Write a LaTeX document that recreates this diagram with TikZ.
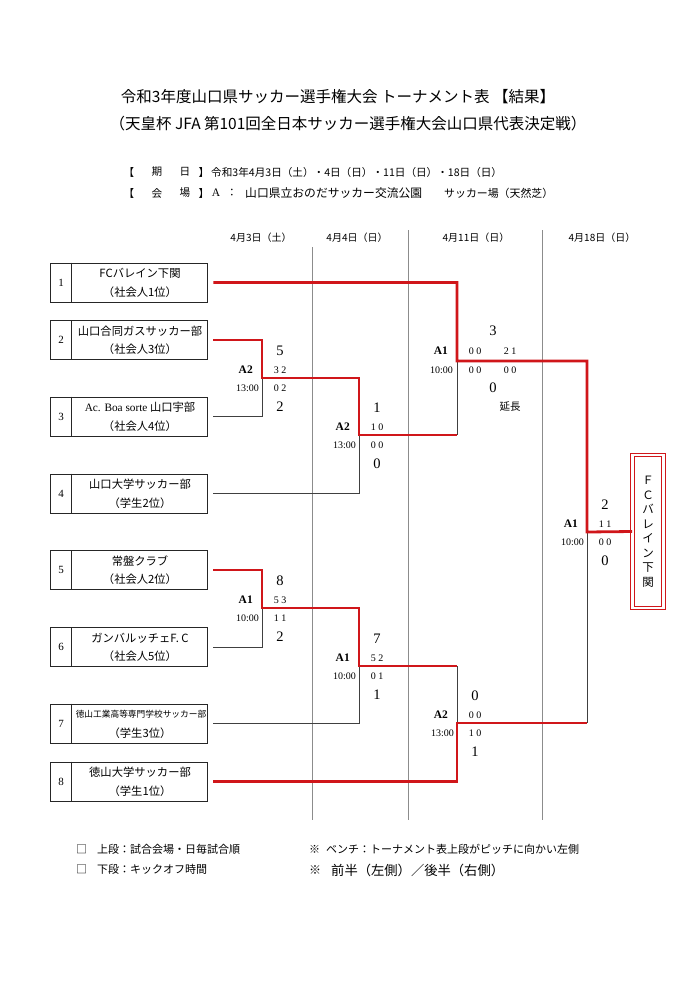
\documentclass[tikz,border=0pt]{standalone}
\usepackage{fontspec}
\setmainfont{Noto Sans CJK JP}
\newfontfamily\sr{Liberation Serif}
\definecolor{myred}{RGB}{208,22,26}
\tikzset{
 teambox/.style={draw=black!85, line width=0.9pt, minimum width=157pt, minimum height=39pt, inner sep=0pt},
 divline/.style={draw=black!85, line width=0.9pt},
 numf/.style={inner sep=0pt, font=\sr\fontsize{11}{12}\selectfont},
 tname/.style={inner sep=0pt, font=\fontsize{11.3}{12}\selectfont},
 tsmall/.style={inner sep=0pt, font=\fontsize{8.7}{10}\selectfont},
 redpath/.style={draw=myred, line width=2.8pt},
 blkpath/.style={draw=black!75, line width=1pt},
 colline/.style={draw=black!45, line width=0.7pt},
 bigsc/.style={inner sep=0pt, font=\sr\fontsize{14.5}{15}\selectfont},
 smsc/.style={inner sep=0pt, font=\sr\fontsize{10}{11}\selectfont},
 venue/.style={inner sep=0pt, anchor=east, font=\sr\bfseries\fontsize{11.5}{12}\selectfont},
 ktime/.style={inner sep=0pt, anchor=east, font=\sr\fontsize{10}{11}\selectfont},
 titlef/.style={inner sep=0pt, font=\fontsize{15.5}{16}\selectfont},
 datef/.style={inner sep=0pt, font=\fontsize{10.6}{12}\selectfont},
 datew/.style={inner sep=0pt, anchor=west, font=\fontsize{10.6}{12}\selectfont},
 headf/.style={inner sep=0pt, font=\fontsize{10}{11}\selectfont},
 notef/.style={inner sep=0pt, anchor=west, font=\fontsize{11}{12}\selectfont},
 noteb/.style={inner sep=0pt, anchor=west, font=\fontsize{13.3}{14}\selectfont},
 winbox/.style={draw=myred, double=white, double distance=2.6pt, line width=0.9pt,
   minimum width=31pt, minimum height=153pt, inner sep=0pt, align=center,
   font=\fontsize{11.5}{14.5}\selectfont},
}
\newcommand\teamrow[4]{%
 \node[teambox] (t#1) at (128.5,#2) {};
 \draw[divline] ([xshift=22pt]t#1.north west) -- ([xshift=22pt]t#1.south west);
 \node[numf] (t#1n) at (61,#2) {#1};
 \node[tname] (t#1a) at (140,{#2-9}) {#3};
 \node[tname] (t#1b) at (140,{#2+9.5}) {#4};
}
\newcommand\mlabel[9]{%
 \node[venue] (#1v) at ({#2-9},{#3-8}) {#4};
 \node[ktime] (#1t) at ({#2-3},{#3+10}) {#5};
 \node[bigsc] (#1a) at ({#2+18},{#3-27}) {#6};
 \node[smsc] (#1b) at ({#2+18},{#3-8}) {#7};
 \node[smsc] (#1c) at ({#2+18},{#3+10}) {#8};
 \node[bigsc] (#1d) at ({#2+18},{#3+29}) {#9};
}
\begin{document}
\begin{tikzpicture}[x=1pt,y=-1pt]
\useasboundingbox[fill=white] (0,0) rectangle (700,990);

% titles
\node[titlef] (ti1) at (338,97) {令和3年度山口県サッカー選手権大会 トーナメント表 【結果】};
\node[titlef] (ti2) at (348,124) {（天皇杯 JFA 第101回全日本サッカー選手権大会山口県代表決定戦）};

% date / venue lines
\node[datef] (d1a) at (129,172) {【};
\node[datef] (d1b) at (157,172) {期};
\node[datef] (d1c) at (185,172) {日};
\node[datef] (d1d) at (204,172) {】};
\node[datew] (d1e) at (211,172) {令和3年4月3日（土）・4日（日）・11日（日）・18日（日）};
\node[datef] (d2a) at (129,193) {【};
\node[datef] (d2b) at (157,193) {会};
\node[datef] (d2c) at (185,193) {場};
\node[datef] (d2d) at (204,193) {】};
\node[datef, font=\sr\fontsize{11.5}{12}\selectfont] (d2e) at (216,193) {A};
\node[datef] (d2f) at (232,193) {：};
\node[datew, font=\fontsize{11.8}{12}\selectfont] (d2g) at (245,193) {山口県立おのだサッカー交流公園};
\node[datew, font=\fontsize{10.9}{12}\selectfont] (d2h) at (444,193) {サッカー場（天然芝）};

% column headers
\node[headf] (h1) at (261,238) {4月3日（土）};
\node[headf] (h2) at (357,238) {4月4日（日）};
\node[headf] (h3) at (476,238) {4月11日（日）};
\node[headf] (h4) at (602,238) {4月18日（日）};

% column lines
\draw[colline] (312,247) -- (312,820);
\draw[colline] (408,230) -- (408,820);
\draw[colline] (542,230) -- (542,820);

% teams
\teamrow{1}{282.5}{FCバレイン下関}{（社会人1位）}
\teamrow{2}{340}{山口合同ガスサッカー部}{（社会人3位）}
\teamrow{3}{416.5}{{\sr Ac. Boa sorte} 山口宇部}{（社会人4位）}
\teamrow{4}{493.5}{山口大学サッカー部}{（学生2位）}
\teamrow{5}{570}{常盤クラブ}{（社会人2位）}
\teamrow{6}{647}{ガンバルッチェF. C}{（社会人5位）}
\teamrow{7}{723.5}{}{（学生3位）}
\node[tsmall] (t7s) at (141,714) {徳山工業高等専門学校サッカー部};
\teamrow{8}{781.5}{徳山大学サッカー部}{（学生1位）}

% match points
\coordinate (q1) at (262,378);
\coordinate (q2) at (262,608);
\coordinate (s1) at (359,435);
\coordinate (s2) at (359,666);
\coordinate (f1) at (457,361);
\coordinate (f2) at (457,723);
\coordinate (fin) at (587,532);

% winner box
\node[winbox] (win) at (648,531.5) {Ｆ\\Ｃ\\バ\\レ\\イ\\ン\\下\\関};

% losing (black) lines
\draw[blkpath] ([xshift=6pt]t3.east) -| (q1);
\draw[blkpath] ([xshift=6pt]t4.east) -| (s1);
\draw[blkpath] ([xshift=6pt]t6.east) -| (q2);
\draw[blkpath] ([xshift=6pt]t7.east) -| (s2);
\draw[blkpath] (f1) -- (s1 -| f1);
\draw[blkpath] (f2) -- (s2 -| f2);
\draw[blkpath] (fin) -- (f2 -| fin);

% winning (red) lines
\draw[redpath] ([xshift=6pt]t1.east) -| (f1) -| (fin) -- (win.west);
\draw[redpath] ([xshift=6pt]t2.east) -| (q1) -| (s1) -- (s1 -| f1);
\draw[redpath] ([xshift=6pt]t5.east) -| (q2) -| (s2) -- (s2 -| f2);
\draw[redpath] ([xshift=6pt]t8.east) -| (f2) -- (f2 -| fin);

% match labels
\mlabel{mq1}{262}{378}{A2}{13:00}{5}{3 2}{0 2}{2}
\mlabel{mq2}{262}{608}{A1}{10:00}{8}{5 3}{1 1}{2}
\mlabel{ms1}{359}{435}{A2}{13:00}{1}{1 0}{0 0}{0}
\mlabel{ms2}{359}{666}{A1}{10:00}{7}{5 2}{0 1}{1}
\mlabel{mf2}{457}{723}{A2}{13:00}{0}{0 0}{1 0}{1}
\mlabel{mfn}{587}{532}{A1}{10:00}{2}{1 1}{0 0}{0}
% semi-final A1 with extra time
\node[venue] (mf1v) at (448,351) {A1};
\node[ktime] (mf1t) at (453,370) {10:00};
\node[bigsc] (mf1a) at (493,331) {3};
\node[smsc] (mf1b) at (475,351) {0 0};
\node[smsc] (mf1c) at (510,351) {2 1};
\node[smsc] (mf1d) at (475,370) {0 0};
\node[smsc] (mf1e) at (510,370) {0 0};
\node[bigsc] (mf1f) at (493,388) {0};
\node[headf, font=\fontsize{10.5}{11}\selectfont] (mf1g) at (510,407) {延長};

% notes
\node[notef] (n1s) at (76,849) {□};
\node[notef] (n1) at (97,849) {上段：試合会場・日毎試合順};
\node[notef] (n2s) at (76,869) {□};
\node[notef] (n2) at (97,869) {下段：キックオフ時間};
\node[notef] (n3s) at (309,849) {※};
\node[notef] (n3) at (326,849) {ベンチ：トーナメント表上段がピッチに向かい左側};
\node[noteb, font=\fontsize{12}{13}\selectfont] (n4s) at (309,870) {※};
\node[noteb] (n4) at (331,870) {前半（左側）／後半（右側）};
\end{tikzpicture}
\end{document}
